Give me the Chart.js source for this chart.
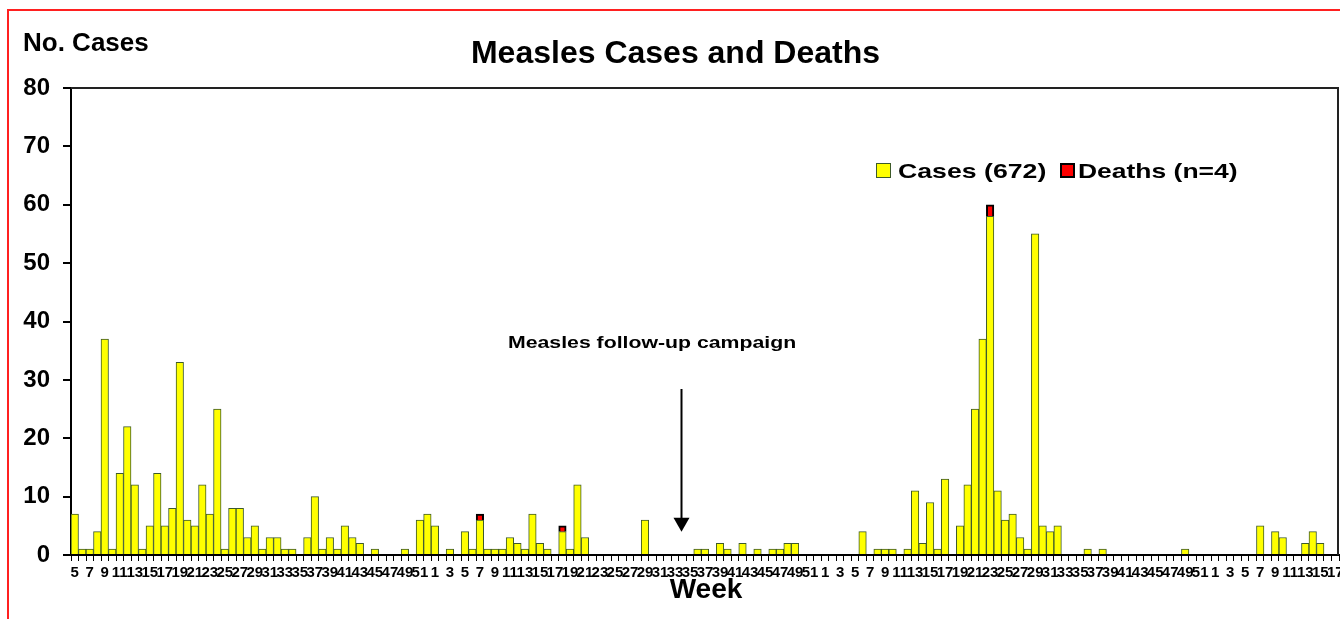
<!DOCTYPE html>
<html>
<head>
<meta charset="utf-8">
<script src="https://cdn.jsdelivr.net/npm/chart.js@4/dist/chart.umd.min.js"></script>
<style>
  html, body { margin: 0; padding: 0; background: #ffffff; }
  #wrap { width: 1340px; height: 619px; }
</style>
</head>
<body>
<div id="wrap"><canvas id="c" width="1340" height="619"></canvas></div>
<script>
// ---- Categories: epidemiological weeks (four consecutive years) ----
const year1Weeks = [5,6,7,8,9,10,11,12,13,14,15,16,17,18,19,20,21,22,23,24,25,26,27,28,29,30,31,32,33,34,35,36,37,38,39,40,41,42,43,44,45,46,47,48,49,50,51,52];
const year2Weeks = [1,2,3,4,5,6,7,8,9,10,11,12,13,14,15,16,17,18,19,20,21,22,23,24,25,26,27,28,29,30,31,32,33,34,35,36,37,38,39,40,41,42,43,44,45,46,47,48,49,50,51,52];
const year3Weeks = [1,2,3,4,5,6,7,8,9,10,11,12,13,14,15,16,17,18,19,20,21,22,23,24,25,26,27,28,29,30,31,32,33,34,35,36,37,38,39,40,41,42,43,44,45,46,47,48,49,50,51,52];
const year4Weeks = [1,2,3,4,5,6,7,8,9,10,11,12,13,14,15,16,17];

// ---- Series: measles cases per week ----
const casesYear1 = [7,1,1,4,37,1,14,22,12,1,5,14,5,8,33,6,5,12,7,25,1,8,8,3,5,1,3,3,1,1,0,3,10,1,3,1,5,3,2,0,1,0,0,0,1,0,6,7];
const casesYear2 = [5,0,1,0,4,1,6,1,1,1,3,2,1,7,2,1,0,4,1,12,3,0,0,0,0,0,0,0,6,0,0,0,0,0,0,1,1,0,2,1,0,2,0,1,0,1,1,2,2,0,0,0];
const casesYear3 = [0,0,0,0,0,4,0,1,1,1,0,1,11,2,9,1,13,0,5,12,25,37,58,11,6,7,3,1,55,5,4,5,0,0,0,1,0,1,0,0,0,0,0,0,0,0,0,0,1,0,0,0];
const casesYear4 = [0,0,0,0,0,0,5,0,4,3,0,0,2,4,2,0,0];

// ---- Series: measles deaths per week ----
const deathsYear1 = [0,0,0,0,0,0,0,0,0,0,0,0,0,0,0,0,0,0,0,0,0,0,0,0,0,0,0,0,0,0,0,0,0,0,0,0,0,0,0,0,0,0,0,0,0,0,0,0];
const deathsYear2 = [0,0,0,0,0,0,1,0,0,0,0,0,0,0,0,0,0,1,0,0,0,0,0,0,0,0,0,0,0,0,0,0,0,0,0,0,0,0,0,0,0,0,0,0,0,0,0,0,0,0,0,0];
const deathsYear3 = [0,0,0,0,0,0,0,0,0,0,0,0,0,0,0,0,0,0,0,0,0,0,2,0,0,0,0,0,0,0,0,0,0,0,0,0,0,0,0,0,0,0,0,0,0,0,0,0,0,0,0,0];
const deathsYear4 = [0,0,0,0,0,0,0,0,0,0,0,0,0,0,0,0,0];

// ---- Text ----
const chartTitle = 'Measles Cases and Deaths';
const yAxisTitle = 'No. Cases';
const xAxisTitle = 'Week';
const casesLabel = 'Cases (672)';
const deathsLabel = 'Deaths (n=4)';
const annotationText = 'Measles follow-up campaign';
const annotationWeekIndex = 81; // category at which the arrow points
const yTicks = [0,10,20,30,40,50,60,70,80];

const weekLabels = [].concat(year1Weeks, year2Weeks, year3Weeks, year4Weeks).map(String);
const cases = [].concat(casesYear1, casesYear2, casesYear3, casesYear4);
const deaths = [].concat(deathsYear1, deathsYear2, deathsYear3, deathsYear4).map(v => v === 0 ? null : v);

const FONT = '"Liberation Sans", Arial, Helvetica, sans-serif';

function wideText(ctx, text, x, y, sx) {
  ctx.save();
  ctx.translate(x, y);
  ctx.scale(sx, 1);
  ctx.fillText(text, 0, 0);
  ctx.restore();
}

const decorPlugin = {
  id: 'decor',
  afterDraw(chart) {
    const ctx = chart.ctx;
    const a = chart.chartArea;
    const xs = chart.scales.x, ys = chart.scales.y;
    ctx.save();
    // red outer frame
    ctx.strokeStyle = '#ff2020';
    ctx.lineWidth = 2;
    ctx.strokeRect(8, 10, 1400, 700);
    // plot box top and right
    ctx.strokeStyle = '#222';
    ctx.lineWidth = 2;
    ctx.beginPath();
    ctx.moveTo(a.left, a.top);
    ctx.lineTo(a.right - 1, a.top);
    ctx.lineTo(a.right - 1, a.bottom);
    ctx.stroke();

    ctx.fillStyle = '#000';
    ctx.textBaseline = 'alphabetic';
    ctx.textAlign = 'left';
    // title
    ctx.font = 'bold 32px ' + FONT;
    ctx.textAlign = 'center';
    ctx.fillText(chartTitle, 675.5, 63);
    // y axis title
    ctx.font = 'bold 26px ' + FONT;
    ctx.textAlign = 'left';
    ctx.fillText(yAxisTitle, 23, 51);

    // legend
    const lx = 876, ly = 163, bs = 15;
    ctx.fillStyle = '#ffff00';
    ctx.fillRect(lx, ly, bs, bs);
    ctx.strokeStyle = '#3d5a2a';
    ctx.lineWidth = 1;
    ctx.strokeRect(lx + 0.5, ly + 0.5, bs - 1, bs - 1);
    ctx.fillStyle = '#000';
    ctx.font = 'bold 21px ' + FONT;
    wideText(ctx, casesLabel, 898, 178, 1.27);
    ctx.fillStyle = '#ff0000';
    ctx.fillRect(1060, ly, bs, bs);
    ctx.strokeStyle = '#000';
    ctx.lineWidth = 2;
    ctx.strokeRect(1061, ly + 1, bs - 2, bs - 2);
    ctx.fillStyle = '#000';
    wideText(ctx, deathsLabel, 1078, 178, 1.26);

    // annotation
    ctx.font = 'bold 17px ' + FONT;
    wideText(ctx, annotationText, 508, 348, 1.25);

    // arrow
    const ax = Math.round(xs.getPixelForValue(annotationWeekIndex)) - 0.5;
    const yTop = 389, yTip = ys.getPixelForValue(4);
    ctx.strokeStyle = '#000';
    ctx.lineWidth = 2;
    ctx.beginPath();
    ctx.moveTo(ax, yTop);
    ctx.lineTo(ax, yTip - 12);
    ctx.stroke();
    ctx.beginPath();
    ctx.moveTo(ax - 8, yTip - 14);
    ctx.lineTo(ax + 8, yTip - 14);
    ctx.lineTo(ax, yTip);
    ctx.closePath();
    ctx.fill();

    // x axis title
    ctx.font = 'bold 28px ' + FONT;
    ctx.textAlign = 'center';
    ctx.fillText(xAxisTitle, 706, 598);
    ctx.restore();
  }
};

new Chart(document.getElementById('c'), {
  type: 'bar',
  data: {
    labels: weekLabels,
    datasets: [
      {
        label: casesLabel,
        data: cases,
        backgroundColor: '#ffff00',
        borderColor: '#3d5a2a',
        borderWidth: 1,
        barPercentage: 1,
        categoryPercentage: 1,
        stack: 's'
      },
      {
        label: deathsLabel,
        data: deaths,
        backgroundColor: '#ff0000',
        borderColor: '#000000',
        borderWidth: 2,
        barPercentage: 1,
        categoryPercentage: 1,
        stack: 's'
      }
    ]
  },
  options: {
    responsive: false,
    animation: false,
    devicePixelRatio: 1,
    layout: { padding: { top: 88, right: 1, bottom: 0, left: 0 } },
    plugins: {
      legend: { display: false },
      title: { display: false },
      tooltip: { enabled: false }
    },
    scales: {
      x: {
        stacked: true,
        offset: true,
        grid: { display: true, drawOnChartArea: false, offset: true, tickLength: 6, color: '#000', lineWidth: 1 },
        border: { display: true, color: '#000', width: 2 },
        ticks: {
          autoSkip: false,
          maxRotation: 0,
          minRotation: 0,
          padding: 3,
          color: '#000',
          font: { family: FONT, size: 15, weight: 'bold' },
          callback: (v, i) => (i % 2 === 0 ? weekLabels[i] : '')
        },
        afterFit: (s) => { s.height = 64; s.paddingLeft = 0; s.paddingRight = 0; }
      },
      y: {
        stacked: true,
        min: 0,
        max: 80,
        afterBuildTicks: (s) => { s.ticks = yTicks.map(v => ({ value: v })); },
        grid: { display: true, drawOnChartArea: false, tickLength: 8, color: '#000', lineWidth: 2 },
        border: { display: true, color: '#000', width: 2 },
        ticks: {
          padding: 13,
          color: '#000',
          font: { family: FONT, size: 24, weight: 'bold' }
        },
        afterFit: (s) => { s.width = 71; }
      }
    }
  },
  plugins: [decorPlugin]
});
</script>
</body>
</html>
